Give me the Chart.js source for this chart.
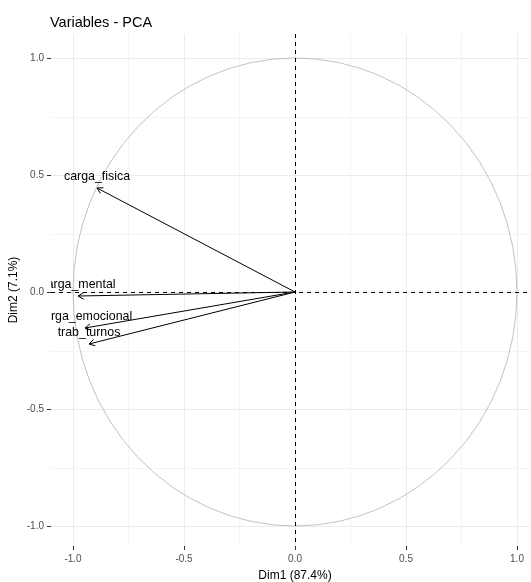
<!DOCTYPE html>
<html>
<head>
<meta charset="utf-8">
<script src="https://cdn.jsdelivr.net/npm/chart.js@4/dist/chart.umd.min.js"></script>
<style>
  html, body { margin: 0; padding: 0; background: #ffffff; overflow: hidden; }
  #wrap { width: 531px; height: 582px; }
</style>
</head>
<body>
<div id="wrap"><canvas id="pca" width="531" height="582"></canvas></div>
<script>
// Variable loadings on the first two principal dimensions
const variables = ['carga_fisica', 'carga_mental', 'carga_emocional', 'trab_turnos'];
const dim1 = [-0.889, -0.975, -0.945, -0.927];
const dim2 = [0.446, -0.015, -0.154, -0.220];

const chartTitle = 'Variables - PCA';
const xTitle = 'Dim1 (87.4%)';
const yTitle = 'Dim2 (7.1%)';
const majorTicks = [-1.0, -0.5, 0.0, 0.5, 1.0];

const FONT = '"Liberation Sans", Arial, sans-serif';

function isMajor(v) {
  return majorTicks.some(m => Math.abs(m - v) < 1e-6);
}

// One line dataset per variable: from the origin to its loading
const datasets = variables.map((name, i) => ({
  label: name,
  data: [{ x: 0, y: 0 }, { x: dim1[i], y: dim2[i] }],
  showLine: true,
  borderColor: '#000000',
  borderWidth: 1,
  pointRadius: 0,
  pointHoverRadius: 0,
  fill: false
}));

// Correlation circle and dashed reference axes (under the arrows)
const guides = {
  id: 'guides',
  beforeDatasetsDraw(chart) {
    const { ctx, chartArea: a, scales: { x, y } } = chart;
    const cx = x.getPixelForValue(0), cy = y.getPixelForValue(0);
    const rx = x.getPixelForValue(1) - cx, ry = cy - y.getPixelForValue(1);
    ctx.save();
    ctx.beginPath();
    ctx.rect(a.left, a.top, a.right - a.left, a.bottom - a.top);
    ctx.clip();
    ctx.strokeStyle = '#b3b3b3';
    ctx.lineWidth = 0.8;
    ctx.beginPath();
    ctx.ellipse(cx, cy, rx, ry, 0, 0, Math.PI * 2);
    ctx.stroke();
    ctx.strokeStyle = '#000000';
    ctx.lineWidth = 1;
    ctx.setLineDash([4, 4]);
    ctx.beginPath();
    ctx.moveTo(a.left, Math.round(cy) + 0.5);
    ctx.lineTo(a.right, Math.round(cy) + 0.5);
    ctx.moveTo(Math.round(cx) + 0.5, a.top);
    ctx.lineTo(Math.round(cx) + 0.5, a.bottom);
    ctx.stroke();
    ctx.restore();
  }
};

// Open arrowheads and variable names at the arrow tips
const tips = {
  id: 'tips',
  afterDatasetsDraw(chart) {
    const { ctx, chartArea: a, scales: { x, y } } = chart;
    const cx = x.getPixelForValue(0), cy = y.getPixelForValue(0);
    ctx.save();
    ctx.beginPath();
    ctx.rect(a.left, a.top, a.right - a.left, a.bottom - a.top);
    ctx.clip();
    variables.forEach((name, i) => {
      const px = x.getPixelForValue(dim1[i]);
      const py = y.getPixelForValue(dim2[i]);
      const ang = Math.atan2(py - cy, px - cx);
      const len = 6.5, spread = Math.PI / 6;
      ctx.strokeStyle = '#000000';
      ctx.lineWidth = 1;
      ctx.beginPath();
      ctx.moveTo(px - len * Math.cos(ang - spread), py - len * Math.sin(ang - spread));
      ctx.lineTo(px, py);
      ctx.lineTo(px - len * Math.cos(ang + spread), py - len * Math.sin(ang + spread));
      ctx.stroke();
      ctx.fillStyle = '#000000';
      ctx.font = '12.4px ' + FONT;
      ctx.textAlign = 'center';
      ctx.textBaseline = 'middle';
      ctx.fillText(name, px, py - 11);
    });
    ctx.restore();
  }
};

// Plot title and axis titles
const titles = {
  id: 'titles',
  afterDraw(chart) {
    const { ctx } = chart;
    ctx.save();
    ctx.fillStyle = '#000000';
    ctx.font = '14.5px ' + FONT;
    ctx.textAlign = 'left';
    ctx.textBaseline = 'alphabetic';
    ctx.fillText(chartTitle, 50, 26.5);
    ctx.font = '12px ' + FONT;
    ctx.textAlign = 'center';
    ctx.fillText(xTitle, 295, 579);
    ctx.translate(16.5, 290);
    ctx.rotate(-Math.PI / 2);
    ctx.fillText(yTitle, 0, 0);
    ctx.restore();
  }
};

const gridOpts = {
  color: c => isMajor(c.tick.value) ? '#ebebeb' : '#f4f4f4',
  lineWidth: 1,
  tickColor: c => isMajor(c.tick.value) ? '#333333' : 'rgba(0,0,0,0)',
  tickLength: 4,
  tickWidth: 1,
  drawTicks: true
};

new Chart(document.getElementById('pca'), {
  type: 'scatter',
  data: { datasets },
  options: {
    responsive: false,
    animation: false,
    events: [],
    layout: { padding: { left: 0, right: 1, top: 34, bottom: 0 } },
    plugins: {
      legend: { display: false },
      tooltip: { enabled: false },
      title: { display: false }
    },
    scales: {
      x: {
        type: 'linear',
        position: 'bottom',
        min: -1.098,
        max: 1.060,
        alignToPixels: true,
        border: { display: false },
        grid: gridOpts,
        ticks: {
          stepSize: 0.25,
          includeBounds: false,
          autoSkip: false,
          maxRotation: 0,
          padding: 3,
          color: '#4d4d4d',
          font: { family: FONT, size: 10 },
          callback: v => isMajor(v) ? v.toFixed(1) : ''
        },
        afterFit: s => { s.height = 36; }
      },
      y: {
        type: 'linear',
        position: 'left',
        min: -1.085,
        max: 1.103,
        alignToPixels: true,
        border: { display: false },
        grid: gridOpts,
        ticks: {
          stepSize: 0.25,
          includeBounds: false,
          autoSkip: false,
          padding: 3,
          color: '#4d4d4d',
          font: { family: FONT, size: 10 },
          callback: v => isMajor(v) ? v.toFixed(1) : ''
        },
        afterFit: s => { s.width = 51; }
      }
    }
  },
  plugins: [guides, tips, titles]
});
</script>
</body>
</html>
